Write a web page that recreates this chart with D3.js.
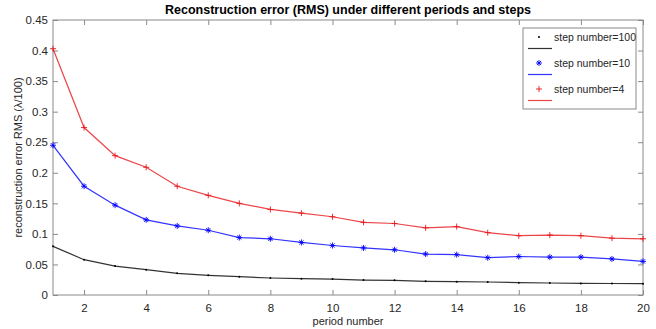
<!DOCTYPE html>
<html>
<head>
<meta charset="utf-8">
<script src="https://cdn.jsdelivr.net/npm/d3@7"></script>
<style>
  body { margin: 0; background: #fff; }
  text { font-family: "Liberation Sans", Arial, sans-serif; }
</style>
</head>
<body>
<svg id="chart" width="656" height="329"></svg>
<script>
// period numbers along the x axis
var periods = d3.range(1, 21);

// RMS reconstruction error
var step100 = [0.0796, 0.0578, 0.0474, 0.0415, 0.0355, 0.0322, 0.0300, 0.0278, 0.0267, 0.0260,
               0.0245, 0.0240, 0.0224, 0.0218, 0.0213, 0.0202, 0.0196, 0.0190, 0.0188, 0.0185];
var step10  = [0.245, 0.178, 0.147, 0.123, 0.113, 0.106, 0.094, 0.092, 0.086, 0.081,
               0.077, 0.074, 0.067, 0.066, 0.061, 0.063, 0.062, 0.062, 0.059, 0.055];
var step4   = [0.403, 0.274, 0.228, 0.209, 0.178, 0.163, 0.150, 0.140, 0.134, 0.128,
               0.119, 0.117, 0.110, 0.112, 0.102, 0.097, 0.098, 0.097, 0.093, 0.092];

var seriesNames = ["step number=100", "step number=10", "step number=4"];

var xTicks = [2, 4, 6, 8, 10, 12, 14, 16, 18, 20];
var yTicks = [0, 0.05, 0.1, 0.15, 0.2, 0.25, 0.3, 0.35, 0.4, 0.45];

var series = [
    {name: seriesNames[0], values: step100, color: "#000000", marker: "dot"},
    {name: seriesNames[1], values: step10,  color: "#0000ff", marker: "star"},
    {name: seriesNames[2], values: step4,   color: "#e8161b", marker: "plus"}
];

var svg = d3.select("#chart");
var plotL = 53, plotR = 643, plotT = 20, plotB = 295;

var xScale = d3.scaleLinear().domain([1, 20]).range([plotL, plotR]);
var yScale = d3.scaleLinear().domain([0, 0.45]).range([plotB, plotT]);

var axisColor = "#8a8a8a";
var tickLen = 5;

//////////////////////////////////////////////////////////////////////////////
// axes (MATLAB style box with inward ticks)

function styleAxis(g)
{
    g.select(".domain").remove();
    g.selectAll(".tick line").attr("stroke", axisColor);
    g.selectAll(".tick text")
        .attr("fill", "#262626")
        .style("font-size", "11.5px");
}

svg.append("g")
    .attr("transform", "translate(0," + plotB + ")")
    .call(d3.axisBottom(xScale).tickValues(xTicks).tickSizeInner(-tickLen).tickSizeOuter(0).tickPadding(9))
    .call(styleAxis);

svg.append("g")
    .attr("transform", "translate(0," + plotT + ")")
    .call(d3.axisTop(xScale).tickValues(xTicks).tickSizeInner(-tickLen).tickSizeOuter(0).tickFormat(""))
    .call(styleAxis);

svg.append("g")
    .attr("transform", "translate(" + plotL + ",0)")
    .call(d3.axisLeft(yScale).tickValues(yTicks).tickSizeInner(-tickLen).tickSizeOuter(0).tickPadding(5)
        .tickFormat(function(d) { return d === 0 ? "0" : String(+d.toFixed(2)); }))
    .call(styleAxis);

svg.append("g")
    .attr("transform", "translate(" + plotR + ",0)")
    .call(d3.axisRight(yScale).tickValues(yTicks).tickSizeInner(-tickLen).tickSizeOuter(0).tickFormat(""))
    .call(styleAxis);

svg.append("rect")
    .attr("x", plotL).attr("y", plotT)
    .attr("width", plotR - plotL).attr("height", plotB - plotT)
    .attr("fill", "none")
    .attr("stroke", axisColor)
    .attr("stroke-width", 1);

//////////////////////////////////////////////////////////////////////////////
// lines and markers

var line = d3.line()
    .x(function(d, i) { return xScale(periods[i]); })
    .y(function(d) { return yScale(d); });

function drawMarker(g, type, color)
{
    if (type === "dot") {
        g.append("circle").attr("r", 1).attr("fill", color);
    } else if (type === "plus") {
        g.append("path").attr("d", "M-3,0H3M0,-3V3")
            .attr("stroke", color).attr("stroke-width", 0.9).attr("fill", "none");
    } else if (type === "star") {
        g.append("path").attr("d", "M-3,0H3M0,-3V3M-2.1,-2.1L2.1,2.1M-2.1,2.1L2.1,-2.1")
            .attr("stroke", color).attr("stroke-width", 0.9).attr("fill", "none");
    }
}

series.forEach(function(s) {
    svg.append("path")
        .datum(s.values)
        .attr("d", line)
        .attr("fill", "none")
        .attr("stroke", s.color)
        .attr("stroke-width", 1.2)
        .attr("opacity", 0.8);

    svg.append("g")
        .selectAll("g")
        .data(s.values)
        .enter()
        .append("g")
        .attr("transform", function(d, i) { return "translate(" + xScale(periods[i]) + "," + yScale(d) + ")"; })
        .each(function() { drawMarker(d3.select(this), s.marker, s.color); });
});

//////////////////////////////////////////////////////////////////////////////
// legend

var legend = svg.append("g");
legend.append("rect")
    .attr("x", 523).attr("y", 28)
    .attr("width", 113).attr("height", 81)
    .attr("fill", "#fff")
    .attr("stroke", axisColor);

series.forEach(function(s, i) {
    var y0 = 37 + i * 26;
    var m = legend.append("g").attr("transform", "translate(539," + y0 + ")");
    drawMarker(m, s.marker, s.color);
    legend.append("line")
        .attr("x1", 528).attr("x2", 552)
        .attr("y1", y0 + 11.5).attr("y2", y0 + 11.5)
        .attr("stroke", s.color).attr("stroke-width", 1.2).attr("opacity", 0.8);
    legend.append("text")
        .attr("x", 554).attr("y", y0 + 4)
        .style("font-size", "10.5px")
        .attr("fill", "#262626")
        .text(s.name);
});

//////////////////////////////////////////////////////////////////////////////
// titles

svg.append("text")
    .attr("x", (plotL + plotR) / 2).attr("y", 14)
    .attr("text-anchor", "middle")
    .style("font-size", "12.5px")
    .style("font-weight", "bold")
    .text("Reconstruction error (RMS) under different periods and steps");

svg.append("text")
    .attr("x", (plotL + plotR) / 2).attr("y", 325)
    .attr("text-anchor", "middle")
    .style("font-size", "11px")
    .attr("fill", "#262626")
    .text("period number");

svg.append("text")
    .attr("transform", "translate(22," + ((plotT + plotB) / 2) + ") rotate(-90)")
    .attr("text-anchor", "middle")
    .style("font-size", "11px")
    .attr("fill", "#262626")
    .text("reconstruction error RMS (\u03bb/100)");
</script>
</body>
</html>
